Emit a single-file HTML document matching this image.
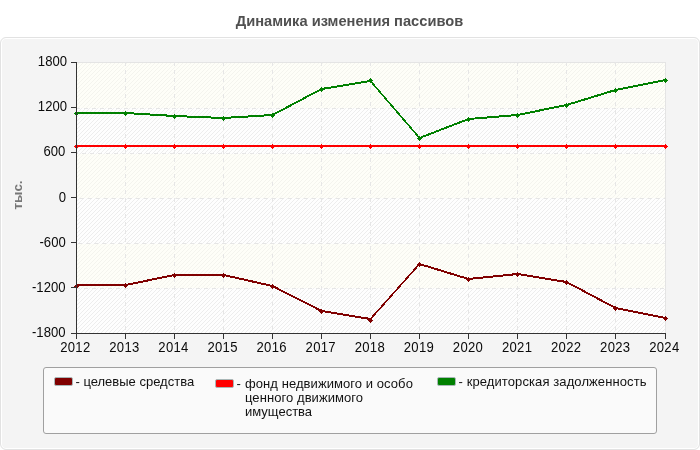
<!DOCTYPE html>
<html><head><meta charset="utf-8"><title>chart</title>
<style>
html,body{margin:0;padding:0;background:#fff;}
body{width:700px;height:450px;position:relative;overflow:hidden;font-family:"Liberation Sans",sans-serif;}
.txt{position:absolute;left:0;top:0;width:700px;height:450px;will-change:transform;}
.panel{position:absolute;left:0;top:37px;width:698px;height:411px;border:1px solid #e2e2e2;border-radius:6px;background:#f4f4f4;box-shadow:inset 0 0 0 1px #fff;}
.title{position:absolute;left:0;top:12px;width:699px;text-align:center;font-weight:bold;font-size:14.67px;line-height:18px;color:#505050;white-space:nowrap;}
.yl{position:absolute;right:633px;font-size:13.1px;transform:scaleY(1.09);transform-origin:50% 50%;line-height:15px;color:#0a0a0a;white-space:nowrap;text-align:right;}
.xl{position:absolute;top:340px;text-align:left;letter-spacing:0.3px;font-size:13.1px;transform:scaleY(1.09);transform-origin:50% 50%;line-height:15px;color:#0a0a0a;white-space:nowrap;}
.unit{position:absolute;left:18px;top:195px;width:0;height:0;}
.unit span{position:absolute;left:-30px;top:-9px;width:60px;height:18px;line-height:18px;text-align:center;font-weight:bold;font-size:13.33px;color:#777;transform:rotate(-90deg);white-space:nowrap;}
.legend{position:absolute;left:43px;top:367px;width:612px;height:65px;border:1px solid #a0a0a0;border-radius:3px;background:#fafafa;}
.sw{position:absolute;width:17px;height:7px;border:1px solid #a9b7b7;border-radius:2px;}
.lt{position:absolute;font-size:13px;line-height:15px;color:#111;white-space:nowrap;}
</style></head><body>
<div class="panel"></div>

<svg width="700" height="450" viewBox="0 0 700 450" style="position:absolute;left:0;top:0">
<defs>
<pattern id="sa" width="4" height="4" patternUnits="userSpaceOnUse"><rect width="4" height="4" fill="#fefef8"/><path d="M0 1h1v1h-1zM1 0h1v1h-1zM2 3h1v1h-1zM3 2h1v1h-1z" fill="#f4f4ee"/></pattern>
<pattern id="sb" width="4" height="4" patternUnits="userSpaceOnUse"><rect width="4" height="4" fill="#fefefe"/><path d="M0 1h1v1h-1zM1 0h1v1h-1zM2 3h1v1h-1zM3 2h1v1h-1z" fill="#ededed"/></pattern>
</defs>
<g shape-rendering="crispEdges">
<rect x="76" y="62" width="590" height="272" fill="url(#sa)"/>
<rect x="77" y="108" width="588" height="46" fill="url(#sb)"/>
<rect x="77" y="198" width="588" height="46" fill="url(#sb)"/>
<rect x="77" y="288" width="588" height="45" fill="url(#sb)"/>
<rect x="76" y="62" width="590" height="1" fill="#e4e4e4"/>
<rect x="665" y="62" width="1" height="272" fill="#e4e4e4"/>
<line x1="76" y1="108.5" x2="665" y2="108.5" stroke="#e6e6e6" stroke-width="1" stroke-dasharray="4 4" stroke-dashoffset="0"/>
<line x1="76" y1="153.5" x2="665" y2="153.5" stroke="#e6e6e6" stroke-width="1" stroke-dasharray="4 4" stroke-dashoffset="2"/>
<line x1="76" y1="198.5" x2="665" y2="198.5" stroke="#e6e6e6" stroke-width="1" stroke-dasharray="4 4" stroke-dashoffset="4"/>
<line x1="76" y1="243.5" x2="665" y2="243.5" stroke="#e6e6e6" stroke-width="1" stroke-dasharray="4 4" stroke-dashoffset="6"/>
<line x1="76" y1="288.5" x2="665" y2="288.5" stroke="#e6e6e6" stroke-width="1" stroke-dasharray="4 4" stroke-dashoffset="0"/>
<line x1="125.5" y1="62" x2="125.5" y2="333" stroke="#e6e6e6" stroke-width="1" stroke-dasharray="4 4"/>
<line x1="174.5" y1="62" x2="174.5" y2="333" stroke="#e6e6e6" stroke-width="1" stroke-dasharray="4 4"/>
<line x1="223.5" y1="62" x2="223.5" y2="333" stroke="#e6e6e6" stroke-width="1" stroke-dasharray="4 4"/>
<line x1="272.5" y1="62" x2="272.5" y2="333" stroke="#e6e6e6" stroke-width="1" stroke-dasharray="4 4"/>
<line x1="321.5" y1="62" x2="321.5" y2="333" stroke="#e6e6e6" stroke-width="1" stroke-dasharray="4 4"/>
<line x1="370.5" y1="62" x2="370.5" y2="333" stroke="#e6e6e6" stroke-width="1" stroke-dasharray="4 4"/>
<line x1="419.5" y1="62" x2="419.5" y2="333" stroke="#e6e6e6" stroke-width="1" stroke-dasharray="4 4"/>
<line x1="468.5" y1="62" x2="468.5" y2="333" stroke="#e6e6e6" stroke-width="1" stroke-dasharray="4 4"/>
<line x1="517.5" y1="62" x2="517.5" y2="333" stroke="#e6e6e6" stroke-width="1" stroke-dasharray="4 4"/>
<line x1="566.5" y1="62" x2="566.5" y2="333" stroke="#e6e6e6" stroke-width="1" stroke-dasharray="4 4"/>
<line x1="615.5" y1="62" x2="615.5" y2="333" stroke="#e6e6e6" stroke-width="1" stroke-dasharray="4 4"/>
</g>
<g shape-rendering="crispEdges">
<path d="M76.5 285.5L125.5 285.5L125.5 284.5L76.5 284.5ZM125.5 285.5L174.5 275.5L174.5 274.5L125.5 284.5ZM174.5 275.5L223.5 275.5L223.5 274.5L174.5 274.5ZM223.5 275.5L272.5 286.5L272.5 285.5L223.5 274.5ZM272.5 286.5L321.5 311.5L321.5 310.5L272.5 285.5ZM321.5 311.5L370.5 319.5L370.5 318.5L321.5 310.5ZM370.5 319.5L419.5 264.5L419.5 263.5L370.5 318.5ZM419.5 264.5L468.5 279.5L468.5 278.5L419.5 263.5ZM468.5 279.5L517.5 274.5L517.5 273.5L468.5 278.5ZM517.5 274.5L566.5 282.5L566.5 281.5L517.5 273.5ZM566.5 282.5L615.5 308.5L615.5 307.5L566.5 281.5ZM615.5 308.5L665.5 318.5L665.5 317.5L615.5 307.5Z" fill="#800000" stroke="#800000" stroke-width="1" stroke-linejoin="miter"/>
<path d="M76 284h1v1h-1zM75 285h3v1h-3zM74 286h5v1h-5zM75 287h3v1h-3zM76 288h1v1h-1zM125 283h1v1h-1zM124 284h3v1h-3zM123 285h5v1h-5zM124 286h3v1h-3zM125 287h1v1h-1zM174 273h1v1h-1zM173 274h3v1h-3zM172 275h5v1h-5zM173 276h3v1h-3zM174 277h1v1h-1zM223 273h1v1h-1zM222 274h3v1h-3zM221 275h5v1h-5zM222 276h3v1h-3zM223 277h1v1h-1zM272 284h1v1h-1zM271 285h3v1h-3zM270 286h5v1h-5zM271 287h3v1h-3zM272 288h1v1h-1zM321 309h1v1h-1zM320 310h3v1h-3zM319 311h5v1h-5zM320 312h3v1h-3zM321 313h1v1h-1zM370 318h1v1h-1zM369 319h3v1h-3zM368 320h5v1h-5zM369 321h3v1h-3zM370 322h1v1h-1zM419 262h1v1h-1zM418 263h3v1h-3zM417 264h5v1h-5zM418 265h3v1h-3zM419 266h1v1h-1zM468 277h1v1h-1zM467 278h3v1h-3zM466 279h5v1h-5zM467 280h3v1h-3zM468 281h1v1h-1zM517 272h1v1h-1zM516 273h3v1h-3zM515 274h5v1h-5zM516 275h3v1h-3zM517 276h1v1h-1zM566 280h1v1h-1zM565 281h3v1h-3zM564 282h5v1h-5zM565 283h3v1h-3zM566 284h1v1h-1zM615 306h1v1h-1zM614 307h3v1h-3zM613 308h5v1h-5zM614 309h3v1h-3zM615 310h1v1h-1zM665 316h1v1h-1zM664 317h3v1h-3zM663 318h5v1h-5zM664 319h3v1h-3zM665 320h1v1h-1z" fill="#800000"/>
<path d="M76.5 146.5L125.5 146.5L125.5 145.5L76.5 145.5ZM125.5 146.5L174.5 146.5L174.5 145.5L125.5 145.5ZM174.5 146.5L223.5 146.5L223.5 145.5L174.5 145.5ZM223.5 146.5L272.5 146.5L272.5 145.5L223.5 145.5ZM272.5 146.5L321.5 146.5L321.5 145.5L272.5 145.5ZM321.5 146.5L370.5 146.5L370.5 145.5L321.5 145.5ZM370.5 146.5L419.5 146.5L419.5 145.5L370.5 145.5ZM419.5 146.5L468.5 146.5L468.5 145.5L419.5 145.5ZM468.5 146.5L517.5 146.5L517.5 145.5L468.5 145.5ZM517.5 146.5L566.5 146.5L566.5 145.5L517.5 145.5ZM566.5 146.5L615.5 146.5L615.5 145.5L566.5 145.5ZM615.5 146.5L665.5 146.5L665.5 145.5L615.5 145.5Z" fill="#ff0000" stroke="#ff0000" stroke-width="1" stroke-linejoin="miter"/>
<path d="M76 144h1v1h-1zM75 145h3v1h-3zM74 146h5v1h-5zM75 147h3v1h-3zM76 148h1v1h-1zM125 144h1v1h-1zM124 145h3v1h-3zM123 146h5v1h-5zM124 147h3v1h-3zM125 148h1v1h-1zM174 144h1v1h-1zM173 145h3v1h-3zM172 146h5v1h-5zM173 147h3v1h-3zM174 148h1v1h-1zM223 144h1v1h-1zM222 145h3v1h-3zM221 146h5v1h-5zM222 147h3v1h-3zM223 148h1v1h-1zM272 144h1v1h-1zM271 145h3v1h-3zM270 146h5v1h-5zM271 147h3v1h-3zM272 148h1v1h-1zM321 144h1v1h-1zM320 145h3v1h-3zM319 146h5v1h-5zM320 147h3v1h-3zM321 148h1v1h-1zM370 144h1v1h-1zM369 145h3v1h-3zM368 146h5v1h-5zM369 147h3v1h-3zM370 148h1v1h-1zM419 144h1v1h-1zM418 145h3v1h-3zM417 146h5v1h-5zM418 147h3v1h-3zM419 148h1v1h-1zM468 144h1v1h-1zM467 145h3v1h-3zM466 146h5v1h-5zM467 147h3v1h-3zM468 148h1v1h-1zM517 144h1v1h-1zM516 145h3v1h-3zM515 146h5v1h-5zM516 147h3v1h-3zM517 148h1v1h-1zM566 144h1v1h-1zM565 145h3v1h-3zM564 146h5v1h-5zM565 147h3v1h-3zM566 148h1v1h-1zM615 144h1v1h-1zM614 145h3v1h-3zM613 146h5v1h-5zM614 147h3v1h-3zM615 148h1v1h-1zM665 144h1v1h-1zM664 145h3v1h-3zM663 146h5v1h-5zM664 147h3v1h-3zM665 148h1v1h-1z" fill="#ff0000"/>
<path d="M76.5 113.5L125.5 113.5L125.5 112.5L76.5 112.5ZM125.5 113.5L174.5 116.5L174.5 115.5L125.5 112.5ZM174.5 116.5L223.5 118.5L223.5 117.5L174.5 115.5ZM223.5 118.5L272.5 115.5L272.5 114.5L223.5 117.5ZM272.5 115.5L321.5 89.5L321.5 88.5L272.5 114.5ZM321.5 89.5L370.5 81.5L370.5 80.5L321.5 88.5ZM370.5 81.5L419.5 138.5L419.5 137.5L370.5 80.5ZM419.5 138.5L468.5 119.5L468.5 118.5L419.5 137.5ZM468.5 119.5L517.5 115.5L517.5 114.5L468.5 118.5ZM517.5 115.5L566.5 105.5L566.5 104.5L517.5 114.5ZM566.5 105.5L615.5 90.5L615.5 89.5L566.5 104.5ZM615.5 90.5L665.5 80.5L665.5 79.5L615.5 89.5Z" fill="#008000" stroke="#008000" stroke-width="1" stroke-linejoin="miter"/>
<path d="M76 111h1v1h-1zM75 112h3v1h-3zM74 113h5v1h-5zM75 114h3v1h-3zM76 115h1v1h-1zM125 111h1v1h-1zM124 112h3v1h-3zM123 113h5v1h-5zM124 114h3v1h-3zM125 115h1v1h-1zM174 114h1v1h-1zM173 115h3v1h-3zM172 116h5v1h-5zM173 117h3v1h-3zM174 118h1v1h-1zM223 116h1v1h-1zM222 117h3v1h-3zM221 118h5v1h-5zM222 119h3v1h-3zM223 120h1v1h-1zM272 113h1v1h-1zM271 114h3v1h-3zM270 115h5v1h-5zM271 116h3v1h-3zM272 117h1v1h-1zM321 87h1v1h-1zM320 88h3v1h-3zM319 89h5v1h-5zM320 90h3v1h-3zM321 91h1v1h-1zM370 78h1v1h-1zM369 79h3v1h-3zM368 80h5v1h-5zM369 81h3v1h-3zM370 82h1v1h-1zM419 136h1v1h-1zM418 137h3v1h-3zM417 138h5v1h-5zM418 139h3v1h-3zM419 140h1v1h-1zM468 117h1v1h-1zM467 118h3v1h-3zM466 119h5v1h-5zM467 120h3v1h-3zM468 121h1v1h-1zM517 113h1v1h-1zM516 114h3v1h-3zM515 115h5v1h-5zM516 116h3v1h-3zM517 117h1v1h-1zM566 103h1v1h-1zM565 104h3v1h-3zM564 105h5v1h-5zM565 106h3v1h-3zM566 107h1v1h-1zM615 88h1v1h-1zM614 89h3v1h-3zM613 90h5v1h-5zM614 91h3v1h-3zM615 92h1v1h-1zM665 78h1v1h-1zM664 79h3v1h-3zM663 80h5v1h-5zM664 81h3v1h-3zM665 82h1v1h-1z" fill="#008000"/>
<rect x="76" y="62" width="1" height="272" fill="#333"/>
<rect x="76" y="333" width="590" height="1" fill="#333"/>
<rect x="71" y="62" width="5" height="1" fill="#333"/>
<rect x="71" y="107" width="5" height="1" fill="#333"/>
<rect x="71" y="152" width="5" height="1" fill="#333"/>
<rect x="71" y="197" width="5" height="1" fill="#333"/>
<rect x="71" y="242" width="5" height="1" fill="#333"/>
<rect x="71" y="287" width="5" height="1" fill="#333"/>
<rect x="71" y="333" width="5" height="1" fill="#333"/>
<rect x="76" y="334" width="1" height="5" fill="#333"/>
<rect x="125" y="334" width="1" height="5" fill="#333"/>
<rect x="174" y="334" width="1" height="5" fill="#333"/>
<rect x="223" y="334" width="1" height="5" fill="#333"/>
<rect x="272" y="334" width="1" height="5" fill="#333"/>
<rect x="321" y="334" width="1" height="5" fill="#333"/>
<rect x="370" y="334" width="1" height="5" fill="#333"/>
<rect x="419" y="334" width="1" height="5" fill="#333"/>
<rect x="468" y="334" width="1" height="5" fill="#333"/>
<rect x="517" y="334" width="1" height="5" fill="#333"/>
<rect x="566" y="334" width="1" height="5" fill="#333"/>
<rect x="615" y="334" width="1" height="5" fill="#333"/>
<rect x="665" y="334" width="1" height="5" fill="#333"/>
</g>
</svg>
<div class="legend"></div>
<div class="txt"><div class="title">Динамика изменения пассивов</div>
<div class="yl" style="top:54px;right:633px">1800</div>
<div class="yl" style="top:99px;right:633px">1200</div>
<div class="yl" style="top:144px;right:634.6px">600</div>
<div class="yl" style="top:190px;right:634px">0</div>
<div class="yl" style="top:235px;right:634.3px">-600</div>
<div class="yl" style="top:280px;right:634.5px">-1200</div>
<div class="yl" style="top:325px;right:634.5px">-1800</div>
<div class="xl" style="left:60.20px">2012</div>
<div class="xl" style="left:109.28px">2013</div>
<div class="xl" style="left:158.37px">2014</div>
<div class="xl" style="left:207.45px">2015</div>
<div class="xl" style="left:256.53px">2016</div>
<div class="xl" style="left:305.62px">2017</div>
<div class="xl" style="left:354.70px">2018</div>
<div class="xl" style="left:403.78px">2019</div>
<div class="xl" style="left:452.86px">2020</div>
<div class="xl" style="left:501.95px">2021</div>
<div class="xl" style="left:551.03px">2022</div>
<div class="xl" style="left:600.11px">2023</div>
<div class="xl" style="left:649.20px">2024</div>
<div class="unit"><span>тыс.</span></div>

<div class="sw" style="left:54px;top:377px;background:#800000"></div>
<div class="lt" style="left:75.5px;top:374px">- целевые средства</div>
<div class="sw" style="left:215px;top:379px;background:#ff0000"></div>
<div class="lt" style="left:236.5px;top:376px">-</div>
<div class="lt" style="left:245px;top:376px;letter-spacing:0.07px">фонд недвижимого и особо</div>
<div class="lt" style="left:245px;top:390px;letter-spacing:0.07px">ценного движимого</div>
<div class="lt" style="left:245px;top:404px">имущества</div>
<div class="sw" style="left:437px;top:377px;background:#008000"></div>
<div class="lt" style="left:458.5px;top:374px;letter-spacing:0.1px">- кредиторская задолженность</div>
</div>
</body></html>
